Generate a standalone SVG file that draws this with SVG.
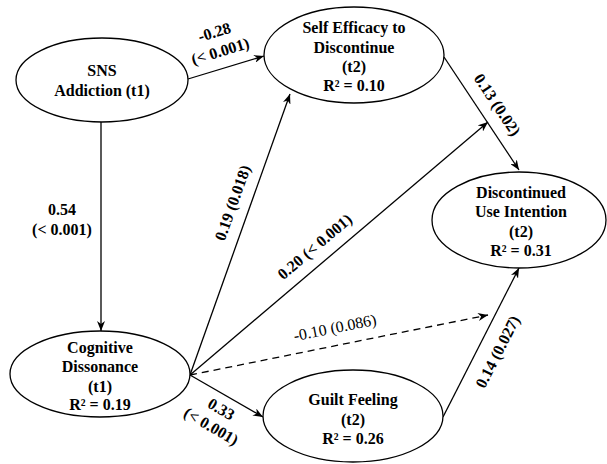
<svg xmlns="http://www.w3.org/2000/svg" width="607" height="464" viewBox="0 0 607 464">
<style>
.node ellipse{fill:#fff;stroke:#000;stroke-width:1.3}
.nt{font-family:"Liberation Serif","Times New Roman",serif;font-size:16px;font-weight:bold;text-anchor:middle;fill:#000}
.lbl{font-family:"Liberation Serif","Times New Roman",serif;font-size:16px;font-weight:bold;text-anchor:middle;fill:#000}
.lbln{font-family:"Liberation Serif","Times New Roman",serif;font-size:16px;font-weight:normal;text-anchor:middle;fill:#000}
.edge{stroke:#000;stroke-width:1.3;fill:none;marker-end:url(#arr)}
.dash{stroke-dasharray:7,5}
</style>
<defs>
<marker id="arr" viewBox="0 0 10 8" refX="10" refY="4" markerWidth="10" markerHeight="8" markerUnits="userSpaceOnUse" orient="auto">
<path d="M0,0 L10,4 L0,8 L3,4 z" fill="#000"/>
</marker>
</defs>
<rect width="607" height="464" fill="#fff"/>
<g id="connectors">
<line class="edge" x1="188" y1="79" x2="264" y2="56"/>
<line class="edge" x1="101" y1="122" x2="101" y2="331"/>
<line class="edge" x1="190" y1="375" x2="290" y2="94"/>
<line class="edge" x1="190" y1="375" x2="488" y2="122"/>
<line class="edge" x1="444" y1="57" x2="519" y2="170"/>
<line class="edge" x1="190" y1="375" x2="263" y2="417"/>
<line class="edge dash" x1="190" y1="375" x2="488" y2="315"/>
<line class="edge" x1="443" y1="417" x2="519" y2="268"/>
<g transform="translate(217.5,42) rotate(-17)"><text class="lbl" y="-5">-0.28</text><text class="lbl" y="15">(&lt; 0.001)</text></g>
<text class="lbl" x="62" y="215">0.54</text>
<text class="lbl" x="62" y="235">(&lt; 0.001)</text>
<text class="lbl" transform="translate(233,203) rotate(-70.5)" y="5">0.19 (0.018)</text>
<text class="lbl" transform="translate(315,247) rotate(-40.3)" y="5">0.20 (&lt; 0.001)</text>
<text class="lbl" transform="translate(497,105) rotate(56.4)" y="5">0.13 (0.02)</text>
<g transform="translate(216,418) rotate(30)"><text class="lbl" y="-5">0.33</text><text class="lbl" y="15">(&lt; 0.001)</text></g>
<text class="lbln" transform="translate(335,328) rotate(-11.4)" y="5">-0.10 (0.086)</text>
<text class="lbl" transform="translate(498,352) rotate(-63)" y="5">0.14 (0.027)</text>
</g>
<g id="sns" class="node"><ellipse cx="102" cy="80" rx="86" ry="42"/><text class="nt" x="102" y="76">SNS</text><text class="nt" x="102" y="96">Addiction (t1)</text></g>
<g id="self" class="node"><ellipse cx="354" cy="55" rx="90" ry="48"/><text class="nt" x="354" y="33">Self Efficacy to</text><text class="nt" x="354" y="52.5">Discontinue</text><text class="nt" x="354" y="72">(t2)</text><text class="nt" x="354" y="91">R² = 0.10</text></g>
<g id="disc" class="node"><ellipse cx="519" cy="220" rx="87" ry="48"/><text class="nt" x="521" y="198">Discontinued</text><text class="nt" x="521" y="217">Use Intention</text><text class="nt" x="521" y="237">(t2)</text><text class="nt" x="521" y="256">R² = 0.31</text></g>
<g id="cog" class="node"><ellipse cx="100" cy="374" rx="90" ry="43"/><text class="nt" x="100" y="353">Cognitive</text><text class="nt" x="100" y="372">Dissonance</text><text class="nt" x="100" y="392">(t1)</text><text class="nt" x="100" y="410">R² = 0.19</text></g>
<g id="guilt" class="node"><ellipse cx="353" cy="416" rx="90" ry="46"/><text class="nt" x="353" y="405">Guilt Feeling</text><text class="nt" x="353" y="425">(t2)</text><text class="nt" x="353" y="444">R² = 0.26</text></g>
</svg>
